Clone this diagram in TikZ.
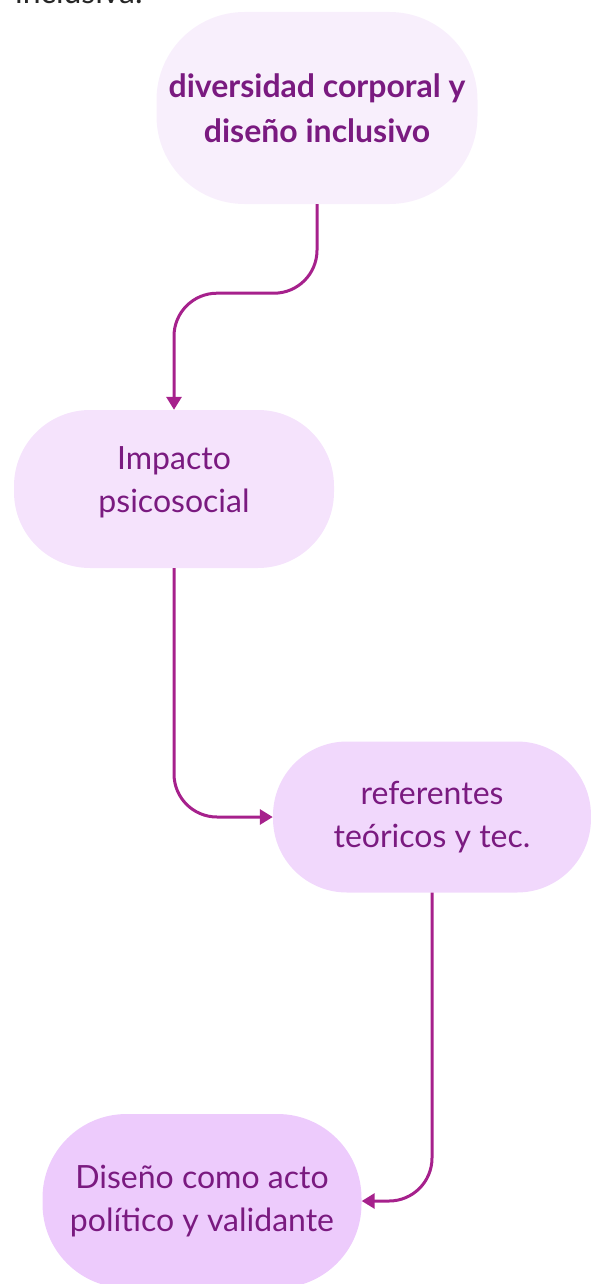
\documentclass[tikz,border=0pt]{standalone}
\usepackage{fontspec}
\setmainfont{Lato}
\usetikzlibrary{arrows.meta}
\definecolor{ink}{HTML}{7A1A80}
\definecolor{wire}{HTML}{A6218C}
\definecolor{fillA}{HTML}{F8EFFC}
\definecolor{fillB}{HTML}{F5E3FC}
\definecolor{fillC}{HTML}{F1D8FC}
\definecolor{fillD}{HTML}{EDCBFC}

\tikzset{
  box/.style = {align=center, text=ink, inner sep=0pt,
                font=\fontsize{32}{43}\selectfont},
  link/.style = {draw=wire, line width=3pt, rounded corners=43pt,
                 -{Triangle[length=13pt,width=15pt]}}
}

\begin{document}
\begin{tikzpicture}[x=1pt,y=-1pt]
  \useasboundingbox (0,0) rectangle (591,1284);
  \node [anchor=base west, inner sep=0pt, text=black!85,
         font=\fontsize{32}{43}\selectfont] (TT) at (15, 4) {inclusiva.};
  \node [box, fill=fillA, minimum width=321pt, minimum height=192pt,
         rounded corners=88pt, font=\fontsize{32}{45}\selectfont\bfseries] (AA) at (317, 108)
        {diversidad corporal y\\diseño inclusivo};
  \node [box, fill=fillB, minimum width=320pt, minimum height=158pt,
         rounded corners=76pt, label={[box, yshift=7pt]center:Impacto\\psicosocial}] (AB) at (174, 489) {};
  \node [box, fill=fillC, minimum width=318pt, minimum height=151pt,
         rounded corners=74pt] (AC) at (432, 817) {referentes\\teóricos y tec.};
  \node [box, fill=fillD, minimum width=319pt, minimum height=174pt,
         rounded corners=84pt] (AD) at (202, 1201) {Diseño como acto\\político y validante};
  \draw [link] (AA.south) -- ++(0, 89) -| (AB.north);
  \draw [link] (AB.south) |- (AC.west);
  \draw [link] (AC.south) |- (AD.east);
\end{tikzpicture}
\end{document}
